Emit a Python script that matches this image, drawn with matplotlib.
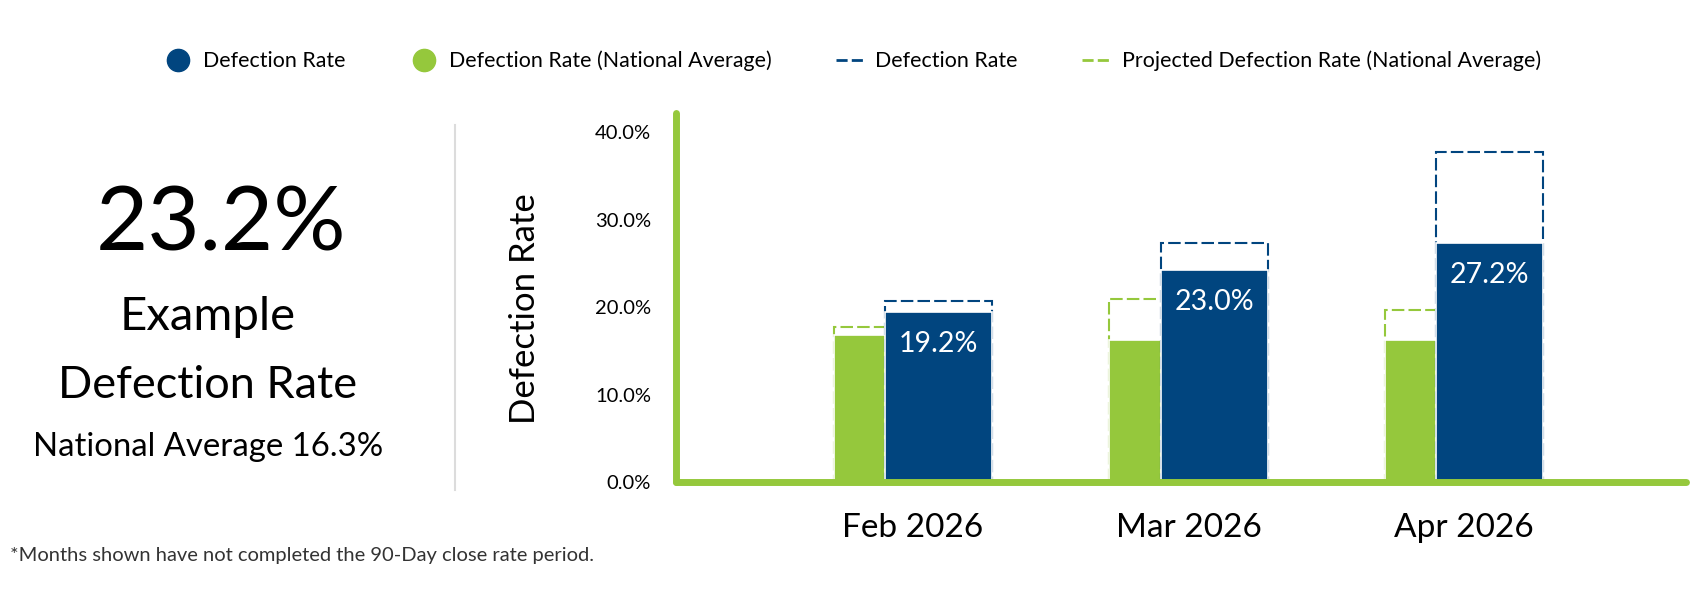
"""Defection rate summary with monthly bars and projections."""

import matplotlib.pyplot as plt
from matplotlib.lines import Line2D

plt.rcParams['font.family'] = ['Lato', 'DejaVu Sans']

# data
months = ["Feb 2026", "Mar 2026", "Apr 2026"]
rate = [19.4, 24.2, 27.3]                 # solid blue bars
rate_labels = [19.2, 23.0, 27.2]          # printed in the blue bars
projected_rate = [20.7, 27.3, 37.7]       # dashed blue outline
national = [16.8, 16.2, 16.2]             # solid green bars
projected_national = [17.7, 20.9, 19.7]   # dashed green outline
y_ticks = [0, 10, 20, 30, 40]

headline = "23.2%"
national_average = "16.3%"

blue = "#01457F"
green = "#95C83C"

fig = plt.figure(figsize=(17, 6), dpi=100)
ax = fig.add_axes([676 / 1700, 118 / 600, 1010 / 1700, 369 / 600])

x = list(range(len(months)))
w = 0.388
off = 0.093
xg = [i - off for i in x]
xb = [i + off for i in x]

# projected outlines first, then the solid bars on top
ax.bar(xg, projected_national, width=w, facecolor="white", edgecolor=green,
       linestyle=(0, (6, 2)), linewidth=1.5, zorder=1)
ax.bar(xg, national, width=w, color=green, edgecolor="white", linewidth=1.2, zorder=2)
ax.bar(xb, projected_rate, width=w, facecolor="white", edgecolor=blue,
       linestyle=(0, (6, 2)), linewidth=1.5, zorder=3)
ax.bar(xb, rate, width=w, color=blue, edgecolor="white", linewidth=1.2, zorder=4)

for xi, v, lab in zip(xb, rate, rate_labels):
    ax.annotate(f"{lab:.1f}%", xy=(xi, v), xytext=(0, -32), textcoords="offset pixels",
                ha="center", va="center", color="white", fontsize=20.5, zorder=5)

ax.set_xlim(-0.86, 2.806)
ax.set_ylim(0, 42.2)
ax.set_yticks(y_ticks)
ax.set_yticklabels([f"{t:.1f}%" for t in y_ticks])
ax.set_xticks(x)
ax.set_xticklabels(months)
ax.tick_params(axis="y", length=0, pad=18, labelsize=14.5)
ax.tick_params(axis="x", length=0, pad=22, labelsize=24)

for s in ["top", "right"]:
    ax.spines[s].set_visible(False)
for s in ["left", "bottom"]:
    ax.spines[s].set_color(green)
    ax.spines[s].set_linewidth(5)
    ax.spines[s].set_capstyle("round")
    ax.spines[s].set_zorder(6)

fig.text(525 / 1700, 1 - 309 / 600, "Defection Rate", rotation=90,
         ha="center", va="center", fontsize=25)

# left summary panel
fig.text(221 / 1700, 1 - 250 / 600, headline, ha="center", va="baseline", fontsize=65)
fig.text(208 / 1700, 1 - 330 / 600, "Example", ha="center", va="baseline", fontsize=34)
fig.text(208 / 1700, 1 - 398 / 600, "Defection Rate", ha="center", va="baseline", fontsize=32.5)
fig.text(208 / 1700, 1 - 456 / 600, f"National Average {national_average}",
         ha="center", va="baseline", fontsize=23.7)
fig.add_artist(Line2D([455 / 1700, 455 / 1700], [1 - 125 / 600, 1 - 490 / 600],
                      color="#dcdcdc", linewidth=1.5))

# legend
handles = [
    Line2D([], [], marker="o", linestyle="none", markersize=16,
           markerfacecolor=blue, markeredgecolor=blue),
    Line2D([], [], marker="o", linestyle="none", markersize=16,
           markerfacecolor=green, markeredgecolor=green),
    Line2D([], [], color=blue, linestyle=(0, (4, 1.5)), linewidth=2),
    Line2D([], [], color=green, linestyle=(0, (4, 1.5)), linewidth=2),
]
labels = ["Defection Rate", "Defection Rate (National Average)",
          "Defection Rate", "Projected Defection Rate (National Average)"]
fig.legend(handles, labels, loc="center", bbox_to_anchor=(852 / 1700, 1 - 61 / 600),
           ncol=4, frameon=False, fontsize=15.4, handlelength=1.4,
           handletextpad=0.45, columnspacing=3.0)

fig.text(10 / 1700, 1 - 556 / 600,
         "*Months shown have not completed the 90-Day close rate period.",
         ha="left", va="center", fontsize=14.5, color="#333333")

plt.savefig("out.png", dpi=100)
